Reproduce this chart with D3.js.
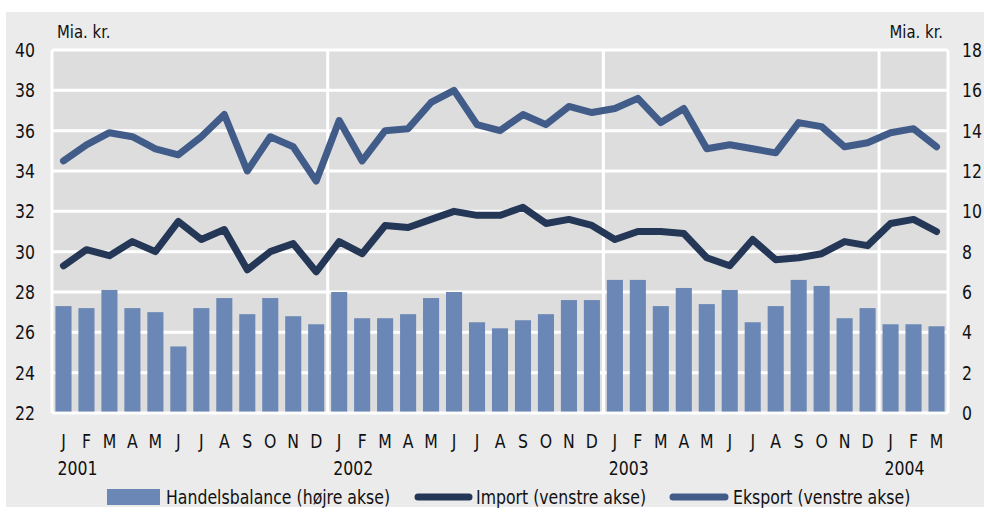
<!DOCTYPE html>
<html>
<head>
<meta charset="utf-8">
<script src="https://cdn.jsdelivr.net/npm/d3@7"></script>
<style>
  body { margin: 0; background: #fff; }
  text { font-family: "Liberation Sans Narrow", "DejaVu Sans Condensed", sans-serif; fill: #111; }
</style>
</head>
<body>
<div id="chart"></div>
<script>
// months Jan 2001 .. Mar 2004
var monthLetters = ["J","F","M","A","M","J","J","A","S","O","N","D"];
var years = ["2001","2002","2003","2004"];

var eksport = [34.5, 35.3, 35.9, 35.7, 35.1, 34.8, 35.7, 36.8, 34.0, 35.7, 35.2, 33.5,
               36.5, 34.5, 36.0, 36.1, 37.4, 38.0, 36.3, 36.0, 36.8, 36.3, 37.2, 36.9,
               37.1, 37.6, 36.4, 37.1, 35.1, 35.3, 35.1, 34.9, 36.4, 36.2, 35.2, 35.4,
               35.9, 36.1, 35.2];
var importV = [29.3, 30.1, 29.8, 30.5, 30.0, 31.5, 30.6, 31.1, 29.1, 30.0, 30.4, 29.0,
               30.5, 29.9, 31.3, 31.2, 31.6, 32.0, 31.8, 31.8, 32.2, 31.4, 31.6, 31.3,
               30.6, 31.0, 31.0, 30.9, 29.7, 29.3, 30.6, 29.6, 29.7, 29.9, 30.5, 30.3,
               31.4, 31.6, 31.0];
var handelsbalance = [5.3, 5.2, 6.1, 5.2, 5.0, 3.3, 5.2, 5.7, 4.9, 5.7, 4.8, 4.4,
                      6.0, 4.7, 4.7, 4.9, 5.7, 6.0, 4.5, 4.2, 4.6, 4.9, 5.6, 5.6,
                      6.6, 6.6, 5.3, 6.2, 5.4, 6.1, 4.5, 5.3, 6.6, 6.3, 4.7, 5.2,
                      4.4, 4.4, 4.3];
var leftTicks = d3.range(22, 41, 2);
var rightTicks = d3.range(0, 19, 2);

var W = 984, H = 513;
var plot = { left: 52, right: 948, top: 50, bottom: 413 };
var cImport = "#253756", cEksport = "#425c8a", cBar = "#6b87b5";
var squeeze = 0.92;   // font is a bit wider than the condensed original

var svg = d3.select("#chart").append("svg")
  .attr("width", W).attr("height", H);

// place a text at (px,py) squeezed horizontally
function put(sel, px, py) {
  return sel.attr("transform", function(d, i) {
    var a = typeof px === "function" ? px(d, i) : px;
    var b = typeof py === "function" ? py(d, i) : py;
    return "translate(" + a + "," + b + ") scale(" + squeeze + ",1)";
  });
}

svg.append("rect").attr("x", 6).attr("y", 12).attr("width", W - 6).attr("height", 495)
  .attr("fill", "#ebebeb");

var idx = d3.range(eksport.length);
var x = d3.scaleBand().domain(idx).range([plot.left, plot.right]).paddingInner(0.3).paddingOuter(0.15);
var xc = function(i) { return x(i) + x.bandwidth() / 2; };
var yL = d3.scaleLinear().domain([22, 40]).range([plot.bottom, plot.top]);
var yR = d3.scaleLinear().domain([0, 18]).range([plot.bottom, plot.top]);

svg.append("rect").attr("x", plot.left).attr("y", plot.top)
  .attr("width", plot.right - plot.left).attr("height", plot.bottom - plot.top)
  .attr("fill", "#dddddd");

// grid
svg.append("g").selectAll("line").data(leftTicks).enter().append("line")
  .attr("x1", plot.left).attr("x2", plot.right)
  .attr("y1", function(d) { return yL(d); }).attr("y2", function(d) { return yL(d); })
  .attr("stroke", "#fff").attr("stroke-width", 3);

var step = (plot.right - plot.left) / eksport.length;
var vlines = [0, 12, 24, 36, 39];
svg.append("g").selectAll("line").data(vlines).enter().append("line")
  .attr("x1", function(d) { return plot.left + d * step; })
  .attr("x2", function(d) { return plot.left + d * step; })
  .attr("y1", plot.top).attr("y2", plot.bottom)
  .attr("stroke", "#fff").attr("stroke-width", 3);

// bars
svg.append("g").selectAll("rect").data(handelsbalance).enter().append("rect")
  .attr("x", function(d, i) { return x(i); })
  .attr("y", function(d) { return yR(d); })
  .attr("width", x.bandwidth())
  .attr("height", function(d) { return yR(0) - yR(d) - 1.5; })
  .attr("fill", cBar);

var line = d3.line().x(function(d, i) { return xc(i); }).y(function(d) { return yL(d); });
svg.append("path").datum(importV).attr("d", line)
  .attr("fill", "none").attr("stroke", cImport).attr("stroke-width", 7)
  .attr("stroke-linejoin", "round").attr("stroke-linecap", "round");
svg.append("path").datum(eksport).attr("d", line)
  .attr("fill", "none").attr("stroke", cEksport).attr("stroke-width", 7)
  .attr("stroke-linejoin", "round").attr("stroke-linecap", "round");

// axes labels
put(svg.append("g").selectAll("text").data(leftTicks).enter().append("text")
  .attr("dy", "0.36em").attr("text-anchor", "end").style("font-size", "19px")
  .text(function(d) { return d; }), 35, function(d) { return yL(d); });
put(svg.append("g").selectAll("text").data(rightTicks).enter().append("text")
  .attr("dy", "0.36em").attr("text-anchor", "start").style("font-size", "19px")
  .text(function(d) { return d; }), 962, function(d) { return yR(d); });

put(svg.append("text").style("font-size", "18px").text("Mia. kr."), 57, 38);
put(svg.append("text").attr("text-anchor", "end").style("font-size", "18px").text("Mia. kr."), 943, 38);

put(svg.append("g").selectAll("text").data(idx).enter().append("text")
  .attr("text-anchor", "middle").style("font-size", "19px")
  .text(function(i) { return monthLetters[i % 12]; }), function(i) { return xc(i); }, 448);

put(svg.append("g").selectAll("text").data(years).enter().append("text")
  .style("font-size", "19px").text(function(d) { return d; }),
  function(d, i) { return xc(i * 12) - 6; }, 475);

// legend
var lg = svg.append("g");
lg.append("rect").attr("x", 107).attr("y", 489).attr("width", 53).attr("height", 16).attr("fill", cBar);
put(lg.append("text").style("font-size", "19px").text("Handelsbalance (højre akse)"), 166, 504);
lg.append("line").attr("x1", 418).attr("x2", 469).attr("y1", 497).attr("y2", 497)
  .attr("stroke", cImport).attr("stroke-width", 7).attr("stroke-linecap", "round");
put(lg.append("text").style("font-size", "19px").text("Import (venstre akse)"), 476, 504);
lg.append("line").attr("x1", 673).attr("x2", 725).attr("y1", 497).attr("y2", 497)
  .attr("stroke", cEksport).attr("stroke-width", 7).attr("stroke-linecap", "round");
put(lg.append("text").style("font-size", "19px").text("Eksport (venstre akse)"), 733, 504);
</script>
</body>
</html>
